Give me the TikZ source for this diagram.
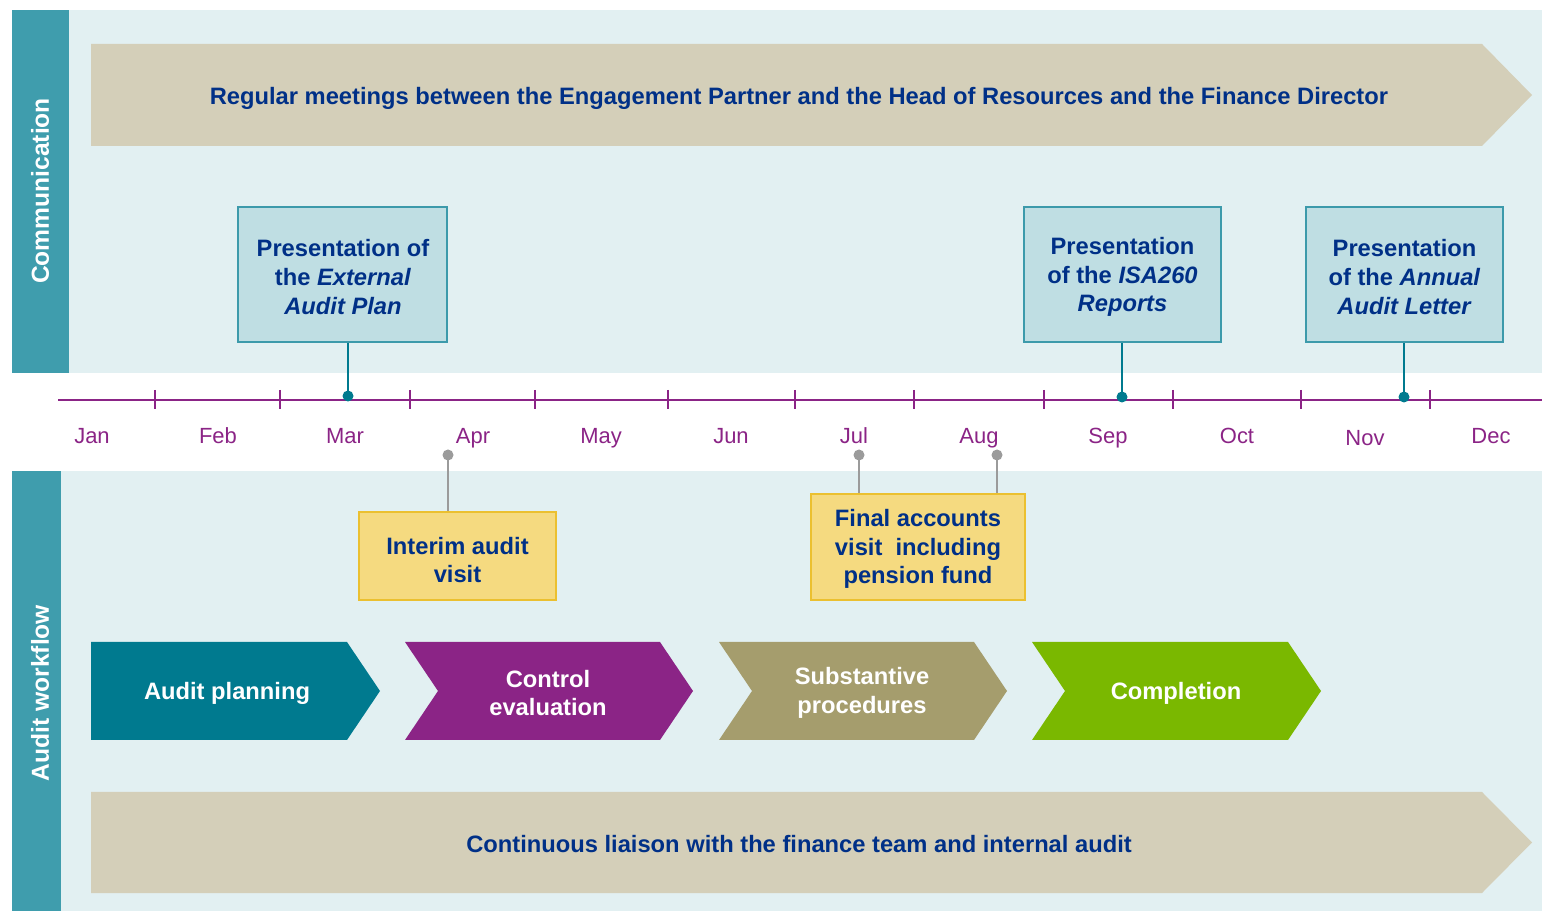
\documentclass[tikz,border=0pt]{standalone}
\usepackage{fontspec}
\setmainfont{Liberation Sans}
\definecolor{barteal}{HTML}{3F9DAD}
\definecolor{paleb}{HTML}{E2F0F2}
\definecolor{tanc}{HTML}{D4CFB9}
\definecolor{navy}{HTML}{003087}
\definecolor{purp}{HTML}{8B2486}
\definecolor{boxfill}{HTML}{BFDEE3}
\definecolor{boxline}{HTML}{3C9AAB}
\definecolor{yel}{HTML}{F5DA80}
\definecolor{yelline}{HTML}{EBC030}
\definecolor{cplan}{HTML}{007A8F}
\definecolor{cctrl}{HTML}{8B2486}
\definecolor{csub}{HTML}{A59D6D}
\definecolor{ccomp}{HTML}{7AB800}
\definecolor{greyc}{HTML}{9B9B9B}
\tikzset{
  btxt/.style={font=\fontsize{13.5}{16.4}\selectfont\bfseries, text=navy, align=center},
  wtxt/.style={font=\fontsize{13.5}{16.4}\selectfont\bfseries, text=white, align=center},
  commbox/.style={draw=boxline, line width=0.8pt, fill=boxfill, minimum height=2.70cm, inner sep=0pt},
  yelbox/.style={draw=yelline, line width=0.8pt, fill=yel, inner sep=0pt},
  month/.style={font=\fontsize{12.5}{14}\selectfont, text=purp, anchor=base},
  tdot/.style={circle, fill=cplan, inner sep=0pt, minimum size=0.22cm},
  gdot/.style={circle, fill=greyc, inner sep=0pt, minimum size=0.22cm},
  tline/.style={draw=cplan, line width=1.4pt},
  gline/.style={draw=greyc, line width=1.4pt},
  vlabel/.style={font=\fontsize{14}{16}\selectfont\bfseries, text=white, rotate=90}
}
\begin{document}
\begin{tikzpicture}[x=0.02cm, y=-0.02cm]
\useasboundingbox (0,0) rectangle (1542,911);
\fill[white] (0,0) rectangle (1542,911);
% panels
\fill[paleb] (69,10) rectangle (1542,373);
\fill[barteal] (12,10) rectangle (69,373);
\fill[paleb] (61,471) rectangle (1542,911);
\fill[barteal] (12,471) rectangle (61,911);
\node[vlabel] (comm) at (40,191) {Communication};
\node[vlabel] (wf) at (40,693) {Audit workflow};
% top arrow
\fill[tanc] (91,44) -- (1482,44) -- (1532,95) -- (1482,146) -- (91,146) -- cycle;
\node[btxt] (meet) at (799,98) {Regular meetings between the Engagement Partner and the Head of Resources and the Finance Director};
% bottom arrow
\fill[tanc] (91,792) -- (1482,792) -- (1532,842.5) -- (1482,893) -- (91,893) -- cycle;
\node[btxt] (liaison) at (799,844) {Continuous liaison with the finance team and internal audit};
% timeline
\draw[purp, line width=1.7pt] (58,400) -- (1542,400);
\foreach \t in {155,280,410,535,668,795,914,1044,1173,1301,1430}
  \draw[purp, line width=1.4pt] (\t,390) -- (\t,409);
\node[month] (jan) at (92,444) {Jan};
\node[month] (feb) at (218,444) {Feb};
\node[month] (mar) at (345,444) {Mar};
\node[month] (apr) at (473,444) {Apr};
\node[month] (may) at (601,444) {May};
\node[month] (jun) at (731,444) {Jun};
\node[month] (jul) at (854,444) {Jul};
\node[month] (aug) at (979,444) {Aug};
\node[month] (sep) at (1108,444) {Sep};
\node[month] (oct) at (1237,444) {Oct};
\node[month] (nov) at (1365,446) {Nov};
\node[month] (dec) at (1491,444) {Dec};
% communication boxes
\node[commbox, minimum width=4.18cm] (b1) at (342.5,274.5) {};
\node[commbox, minimum width=3.94cm] (b2) at (1122.5,274.5) {};
\node[commbox, minimum width=3.94cm] (b3) at (1404.5,274.5) {};
\node[btxt] (t1) at (343,277) {Presentation of\\the \textit{External}\\\textit{Audit Plan}};
\node[btxt] (t2) at (1122.5,277) {Presentation\\of the \textit{ISA260}\\\textit{Reports}};
\node[btxt] (t3) at (1404.5,277) {Presentation\\of the \textit{Annual}\\\textit{Audit Letter}};
\node[tdot] (d1) at (348,396) {};
\node[tdot] (d2) at (1122,397) {};
\node[tdot] (d3) at (1404,397) {};
\draw[tline] (d1.center) -- (d1 |- b1.south);
\draw[tline] (d2.center) -- (d2 |- b2.south);
\draw[tline] (d3.center) -- (d3 |- b3.south);
% yellow boxes
\node[yelbox, minimum width=3.94cm, minimum height=1.76cm] (y1) at (457.5,556) {};
\node[yelbox, minimum width=4.28cm, minimum height=2.12cm] (y2) at (918,547) {};
\node[btxt] (yt1) at (457.5,560) {Interim audit\\visit};
\node[btxt] (yt2) at (918,549) {Final accounts\\visit\ \ including\\pension fund};
\node[gdot] (g1) at (448,455) {};
\node[gdot] (g2) at (859,455) {};
\node[gdot] (g3) at (997,455) {};
\draw[gline] (g1.center) -- (g1 |- y1.north);
\draw[gline] (g2.center) -- (g2 |- y2.north);
\draw[gline] (g3.center) -- (g3 |- y2.north);
% chevrons
\fill[cplan] (91,642) -- (347,642) -- (380,691) -- (347,740) -- (91,740) -- cycle;
\fill[cctrl] (405,642) -- (660,642) -- (693,691) -- (660,740) -- (405,740) -- (438,691) -- cycle;
\fill[csub] (719,642) -- (974,642) -- (1007,691) -- (974,740) -- (719,740) -- (752,691) -- cycle;
\fill[ccomp] (1032,642) -- (1288,642) -- (1321,691) -- (1288,740) -- (1032,740) -- (1065,691) -- cycle;
\node[wtxt] (plan) at (227,693) {Audit planning};
\node[wtxt] (ctrl) at (548,693) {Control\\evaluation};
\node[wtxt] (subs) at (862,693) {Substantive\\procedures};
\node[wtxt] (comp) at (1176,693) {Completion};
\end{tikzpicture}
\end{document}
